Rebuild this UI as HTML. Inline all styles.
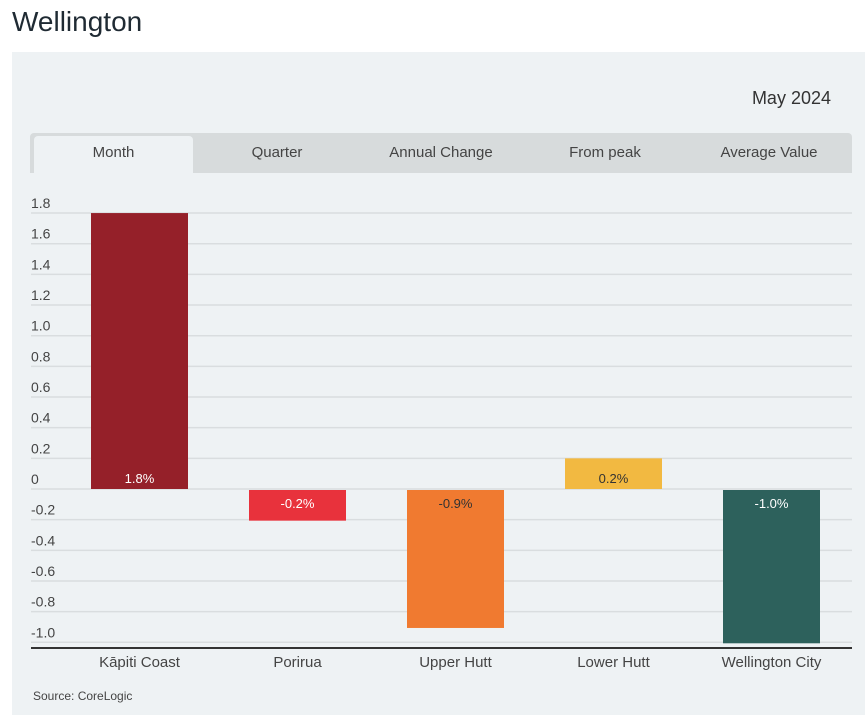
<!DOCTYPE html>
<html><head><meta charset="utf-8"><style>
body{margin:0;width:865px;height:715px;background:#fff;font-family:"Liberation Sans",sans-serif;position:relative;overflow:hidden}
.t{position:absolute}
</style></head><body>
<div class="t" style="left:12px;top:6px;font-size:28px;color:#1f2a33">Wellington</div>
<div class="t" style="left:12px;top:52px;width:853px;height:663px;background:#eef2f4"></div>
<div class="t" style="left:700px;top:88px;width:131px;text-align:right;font-size:18px;color:#333">May 2024</div>
<div class="t" style="left:30px;top:133px;width:822px;height:40px;background:#d7dbdc;border-radius:4px 4px 0 0"></div>
<div class="t" style="left:34px;top:136px;width:159px;height:37px;background:#eef2f4;border-radius:4px 4px 0 0;text-align:center;line-height:34px;font-size:15px;color:#444">Month</div>
<div class="t" style="left:195px;top:136px;width:164px;line-height:34px;text-align:center;font-size:15px;color:#444">Quarter</div>
<div class="t" style="left:359px;top:136px;width:164px;line-height:34px;text-align:center;font-size:15px;color:#444">Annual Change</div>
<div class="t" style="left:523px;top:136px;width:164px;line-height:34px;text-align:center;font-size:15px;color:#444">From peak</div>
<div class="t" style="left:687px;top:136px;width:164px;line-height:34px;text-align:center;font-size:15px;color:#444">Average Value</div>
<svg class="t" style="left:0;top:0" width="865" height="715" id="chart"></svg>
<div class="t" style="left:33px;top:689px;font-size:12px;color:#444">Source: CoreLogic</div>
<script>
const categories=["Kāpiti Coast","Porirua","Upper Hutt","Lower Hutt","Wellington City"];
const values=[1.8,-0.2,-0.9,0.2,-1.0];
const valueLabels=["1.8%","-0.2%","-0.9%","0.2%","-1.0%"];
const colors=["#952029","#e8323c","#f07a30","#f2b941","#2d615c"];
const labelColors=["#fff","#fff","#333","#333","#fff"];
const ticks=[1.8,1.6,1.4,1.2,1.0,0.8,0.6,0.4,0.2,0,-0.2,-0.4,-0.6,-0.8,-1.0];
const tickLabels=["1.8","1.6","1.4","1.2","1.0","0.8","0.6","0.4","0.2","0","-0.2","-0.4","-0.6","-0.8","-1.0"];
const NS="http://www.w3.org/2000/svg";
const svg=document.getElementById('chart');
const y=v=>489-v*153.3;
const bandX=i=>60.5+i*158;
function mk(t,a){const e=document.createElementNS(NS,t);for(const k in a)e.setAttribute(k,a[k]);svg.appendChild(e);return e;}
ticks.forEach((t,i)=>{
 const l=mk('line',{x1:31,x2:852,y1:y(t),y2:y(t),stroke:'#d9dddf','stroke-width':1.5});
 
 
 const tx=mk('text',{x:31,y:y(t)-5,'font-size':14,fill:'#444','font-family':'Liberation Sans, sans-serif'});
 tx.textContent=tickLabels[i];
 
 
});
values.forEach((v,i)=>{
 const x0=bandX(i)+30.5,w=97;
 const top=v>=0?y(v):y(0)+1,h=Math.abs(y(v)-y(0));
 const r=mk('rect',{x:x0,y:top,width:w,height:h,fill:colors[i]});
 
 
 const ly=v>=0?y(0)-6:y(0)+19;
 const t=mk('text',{x:x0+w/2,y:ly,'text-anchor':'middle','font-size':13,fill:labelColors[i],'font-family':'Liberation Sans, sans-serif'});
 t.textContent=valueLabels[i];
 
 
 const c=mk('text',{x:bandX(i)+79,y:667,'text-anchor':'middle','font-size':15,fill:'#444','font-family':'Liberation Sans, sans-serif'});
 c.textContent=categories[i];
 
 
});
const ax=mk('line',{x1:31,x2:852,y1:648,y2:648,stroke:'#333','stroke-width':2});


</script>
</body></html>
